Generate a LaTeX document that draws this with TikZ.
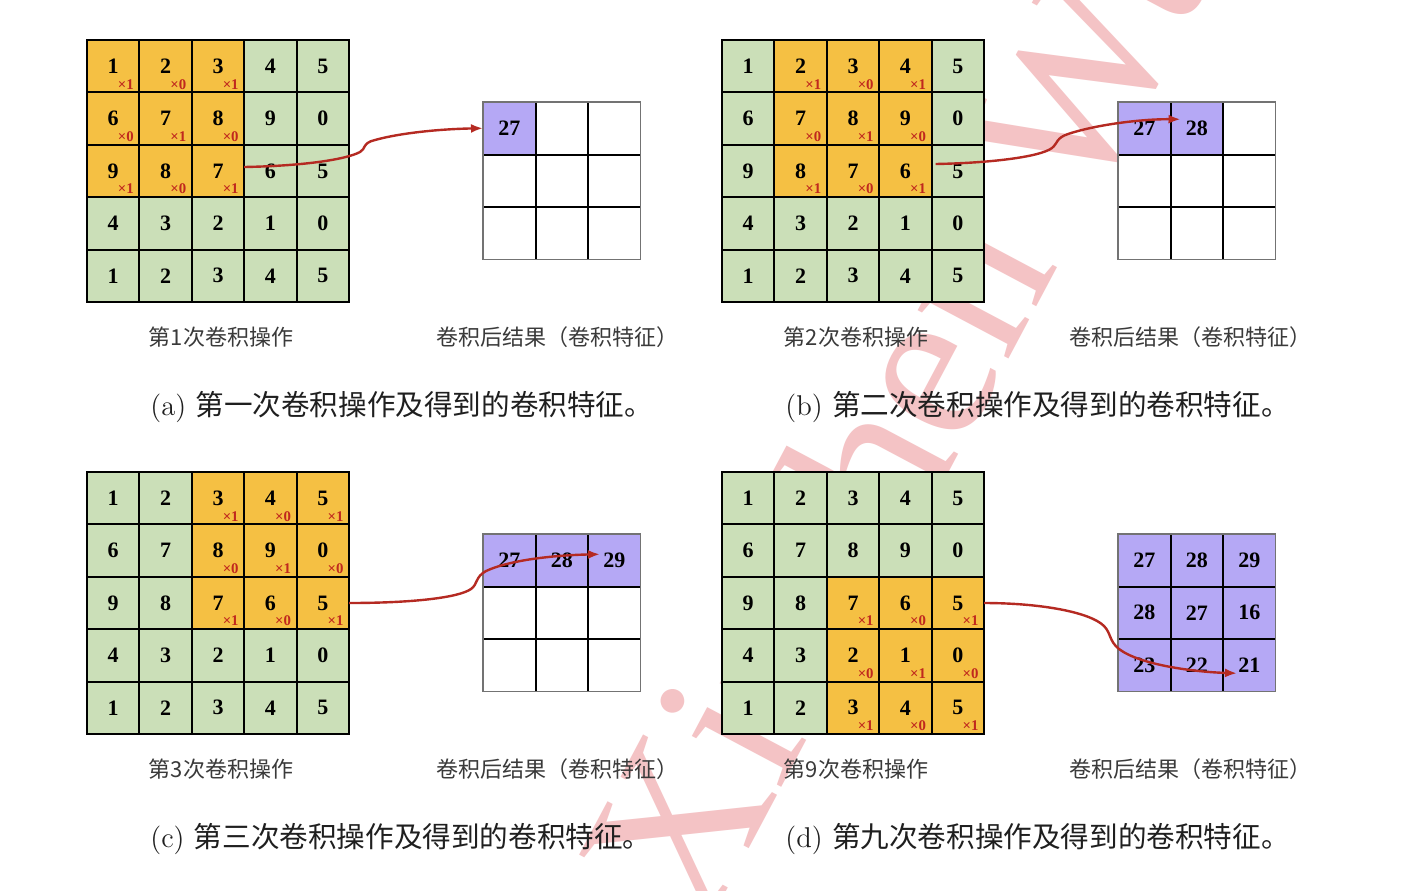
\documentclass[tikz,border=0pt]{standalone}
\usepackage{fontspec}
\newfontfamily\cjk{Noto Sans CJK SC}
\newfontfamily\numf{Liberation Serif}
\usetikzlibrary{arrows.meta,calc}
\definecolor{gcol}{HTML}{CBDFB8}
\definecolor{kcol}{HTML}{F5C043}
\definecolor{pcol}{HTML}{B5A8F5}
\definecolor{arrred}{HTML}{B52A22}
\definecolor{labred}{HTML}{C0281E}
\definecolor{wmpink}{HTML}{F4C3C5}
\definecolor{captxt}{HTML}{3A3A3A}
\def\gridvals{{1,2,3,4,5,6,7,8,9,0,9,8,7,6,5,4,3,2,1,0,1,2,3,4,5}}
% name, x0, y0, kernel column, kernel row
\newcommand\convgrid[5]{%
  \foreach \r in {0,...,4}{
    \foreach \c in {0,...,4}{
      \pgfmathtruncatemacro\vv{\gridvals[5*\r+\c]}
      \pgfmathtruncatemacro\ink{(\c>=#4)&&(\c<#4+3)&&(\r>=#5)&&(\r<#5+3)}
      \pgfmathtruncatemacro\wt{mod(\c-#4+\r-#5+10,2)==0}
      \ifnum\ink=1
        \node[kcell] (#1-\r-\c) at (#2+52.4*\c+26.2, #3+52.4*\r+26.2) {\vv};
        \node[wlab] at (#1-\r-\c.south east) {×\wt};
      \else
        \node[gcell] (#1-\r-\c) at (#2+52.4*\c+26.2, #3+52.4*\r+26.2) {\vv};
      \fi
    }
  }
  \draw[line width=1.3pt] (#1-0-0.north west) rectangle (#1-4-4.south east);
}
% name, x0, y0, list of 9 values (0 = empty)
\newcommand\outgrid[4]{%
  \foreach \v [count=\i from 0] in {#4}{
    \pgfmathtruncatemacro\rr{div(\i,3)}
    \pgfmathtruncatemacro\cc{mod(\i,3)}
    \ifnum\v=0
      \node[ocell] (#1-\rr-\cc) at (#2+52.5*\cc+26.25, #3+52.5*\rr+26.25) {};
    \else
      \node[pcell] (#1-\rr-\cc) at (#2+52.5*\cc+26.25, #3+52.5*\rr+26.25) {\v};
    \fi
  }
  \draw[line width=1pt] (#1-0-1.north west) -- (#1-2-1.south west)
                        (#1-0-2.north west) -- (#1-2-2.south west)
                        (#1-1-0.north west) -- (#1-1-2.north east)
                        (#1-2-0.north west) -- (#1-2-2.north east);
  \draw[line width=0.7pt, black!55] (#1-0-0.north west) rectangle (#1-2-2.south east);
}
\begin{document}
\begin{tikzpicture}[x=0.5pt,y=-0.5pt,
  cellbase/.style={minimum size=26.2pt, inner sep=0pt, outer sep=0pt,
    font=\numf\bfseries\fontsize{11}{12}\selectfont},
  gcell/.style={cellbase, draw=black, line width=1pt, fill=gcol},
  kcell/.style={cellbase, draw=black, line width=1pt, fill=kcol},
  pcell/.style={cellbase, minimum size=26.25pt, fill=pcol},
  ocell/.style={cellbase, minimum size=26.25pt},
  wlab/.style={anchor=base east, xshift=-2.6pt, yshift=1.7pt, inner sep=0pt,
    text=labred, font=\numf\bfseries\fontsize{7.4}{8}\selectfont},
  conn/.style={draw=arrred, line width=1.2pt, -{Latex[length=6pt,width=4.5pt]}},
  subcap/.style={font=\cjk\fontsize{11}{13}\selectfont, text=captxt, inner sep=0pt},
  maincap/.style={anchor=west, inner sep=0pt, text=black!88,
    font=\fontsize{14.3}{16}\selectfont},
  wm/.style={text=wmpink, inner sep=0pt, font=\numf\fontsize{112}{112}\selectfont}
]
\path[use as bounding box, fill=white] (0,0) rectangle (1408,890);

% watermark
\node[wm, rotate=62, anchor=base west] (wm) at (703,935) {Xinchen Wu};

% panel (a)
\convgrid{a}{87}{40}{0}{0}
\outgrid{ao}{483}{102}{27,0,0,0,0,0,0,0,0}
\draw[conn] ($(a-2-2.east)+(0,-4)$) .. controls (300,166) and (345,160) .. (360,152)
  .. controls (366,149) and (362,143) .. (375,140)
  .. controls (400,133) and (440,129) .. (ao-0-0.west);
\node[subcap] (sa1) at (221,337) {第1次卷积操作};
\node[subcap] (sa2) at (557,337) {卷积后结果（卷积特征）};
\node[maincap] (ca) at (150,407) {(a) {\cjk 第一次卷积操作及得到的卷积特征。}};

% panel (b)
\convgrid{b}{722}{40}{1}{0}
\outgrid{bo}{1118}{102}{27,28,0,0,0,0,0,0,0}
\draw[conn] ($(b-2-3.east)+(4,-7)$) .. controls (990,163) and (1040,157) .. (1052,148)
  .. controls (1058,143) and (1056,138) .. (1068,134)
  .. controls (1095,125) and (1140,119) .. ($(bo-0-1.west)+(10,-9)$);
\node[subcap] (sb1) at (856,337) {第2次卷积操作};
\node[subcap] (sb2) at (1190,337) {卷积后结果（卷积特征）};
\node[maincap] (cb) at (785,407) {(b) {\cjk 第二次卷积操作及得到的卷积特征。}};

% panel (c)
\convgrid{c}{87}{472}{2}{0}
\outgrid{co}{483}{534}{27,28,29,0,0,0,0,0,0}
\draw[conn] (c-2-4.east) .. controls (410,603) and (458,598) .. (471,589)
  .. controls (478,584) and (475,577) .. (486,571)
  .. controls (512,559) and (560,555) .. ($(co-0-2.west)+(12,-6)$);
\node[subcap] (sc1) at (221,769) {第3次卷积操作};
\node[subcap] (sc2) at (557,769) {卷积后结果（卷积特征）};
\node[maincap] (cc) at (150,839) {(c) {\cjk 第三次卷积操作及得到的卷积特征。}};

% panel (d)
\convgrid{d}{722}{472}{2}{2}
\outgrid{do}{1118}{534}{27,28,29,28,27,16,23,22,21}
\draw[conn] (d-2-4.east) .. controls (1040,603) and (1090,612) .. (1104,626)
  .. controls (1111,633) and (1109,641) .. (1119,649)
  .. controls (1140,665) and (1195,672) .. ($(do-2-2.west)+(14,8)$);
\node[subcap] (sd1) at (856,769) {第9次卷积操作};
\node[subcap] (sd2) at (1190,769) {卷积后结果（卷积特征）};
\node[maincap] (cd) at (785,839) {(d) {\cjk 第九次卷积操作及得到的卷积特征。}};
\end{tikzpicture}
\end{document}
